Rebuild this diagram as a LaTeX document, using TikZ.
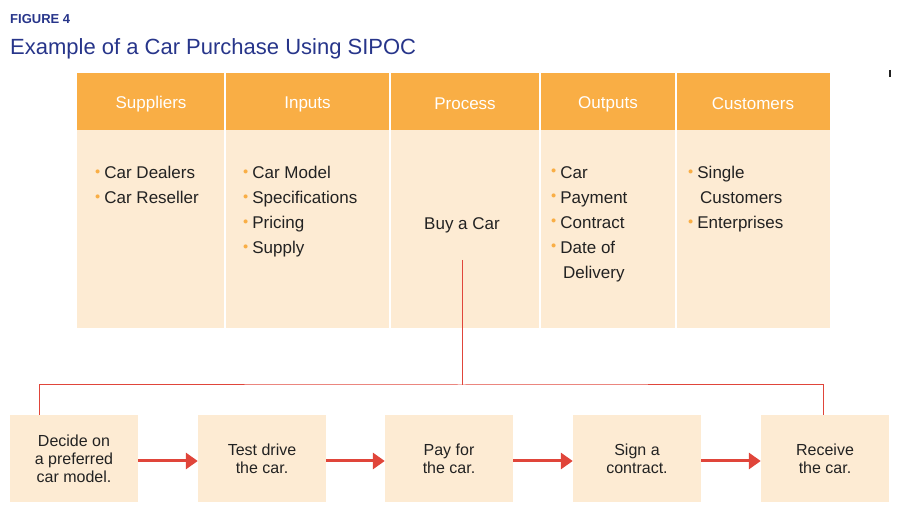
\documentclass[tikz,border=0pt]{standalone}
\usepackage{fontspec}
\setmainfont{Liberation Sans}
\usetikzlibrary{arrows.meta}
\definecolor{hdr}{HTML}{F9AE45}
\definecolor{peach}{HTML}{FDEBD3}
\definecolor{navy}{HTML}{27358A}
\definecolor{redl}{HTML}{E0453A}
\definecolor{txt}{HTML}{222222}
\newcommand{\bul}{\textcolor{hdr}{\raisebox{0.25em}{\scalebox{0.6}{$\bullet$}}}\hspace{4pt}}
\begin{document}
\begin{tikzpicture}[x=1pt,y=-1pt,
  hcell/.style={fill=hdr,draw=white,line width=1pt,text=white,font=\fontsize{17}{20}\selectfont},
  bcell/.style={fill=peach,draw=white,line width=1pt},
  lst/.style={anchor=north west,align=left,text=txt,font=\fontsize{17}{25}\selectfont,inner sep=0pt},
  stepbox/.style={fill=peach,minimum width=128pt,minimum height=87pt,align=center,text=txt,font=\fontsize{16}{18}\selectfont,inner sep=2pt},
  conn/.style={redl,line width=1pt},
  arr/.style={redl,line width=3pt,-{Triangle[length=12pt,width=16pt]}}]
\useasboundingbox (0,0) rectangle (900,510);
\node[anchor=base west,inner sep=0pt,text=navy,font=\bfseries\fontsize{13}{15}\selectfont] (fig) at (10,24) {FIGURE 4};
\node[anchor=base west,inner sep=0pt,text=navy,font=\fontsize{22}{26}\selectfont] (ttl) at (10,55) {Example of a Car Purchase Using SIPOC};
\draw[line width=2pt,txt] (890,70) -- (890,77);
% columns
\foreach \a/\b/\t [count=\i] in {77/225/Suppliers,225/390/Inputs,390/540/Process,540/676/Outputs,676/830/Customers}{
  \fill[hdr] (\a,73) rectangle (\b,130);
  \fill[peach] (\a,130) rectangle (\b,328);
  \node[text=white,font=\fontsize{17}{20}\selectfont] (h\i) at ({(\a+\b)/2},104) {\t};
}
\foreach \x in {225,390,540,676}{\draw[white,line width=1.2pt] (\x,73) -- (\x,328);}
\node[lst] (s1) at (95,166) {\bul Car Dealers\\\bul Car Reseller};
\node[lst] (s2) at (243,166) {\bul Car Model\\\bul Specifications\\\bul Pricing\\\bul Supply};
\node[text=txt,font=\fontsize{17}{20}\selectfont] (pr) at (462,225) {Buy a Car};
\node[lst] (s4) at (551,166) {\bul Car\\\bul Payment\\\bul Contract\\\bul Date of\\\hspace{12pt}Delivery};
\node[lst] (s5) at (688,166) {\bul Single\\\hspace{12pt}Customers\\\bul Enterprises};
\coordinate (top) at (462,260);
\coordinate (mid) at (462,385);
% steps
\node[stepbox] (b1) at (74,458.5) {Decide on\\a preferred\\car model.};
\node[stepbox] (b2) at (262,458.5) {Test drive\\the car.};
\node[stepbox] (b3) at (449,458.5) {Pay for\\the car.};
\node[stepbox] (b4) at (637,458.5) {Sign a\\contract.};
\node[stepbox] (b5) at (825,458.5) {Receive\\the car.};
\draw[conn] (top) -- (mid);
\draw[conn] (b1.north -| 39,0) |- (mid) -| (b5.north -| 823,0);
\draw[arr] (b1.east |- 0,461) -- (b2.west |- 0,461);
\draw[arr] (b2.east |- 0,461) -- (b3.west |- 0,461);
\draw[arr] (b3.east |- 0,461) -- (b4.west |- 0,461);
\draw[arr] (b4.east |- 0,461) -- (b5.west |- 0,461);
\end{tikzpicture}
\end{document}
